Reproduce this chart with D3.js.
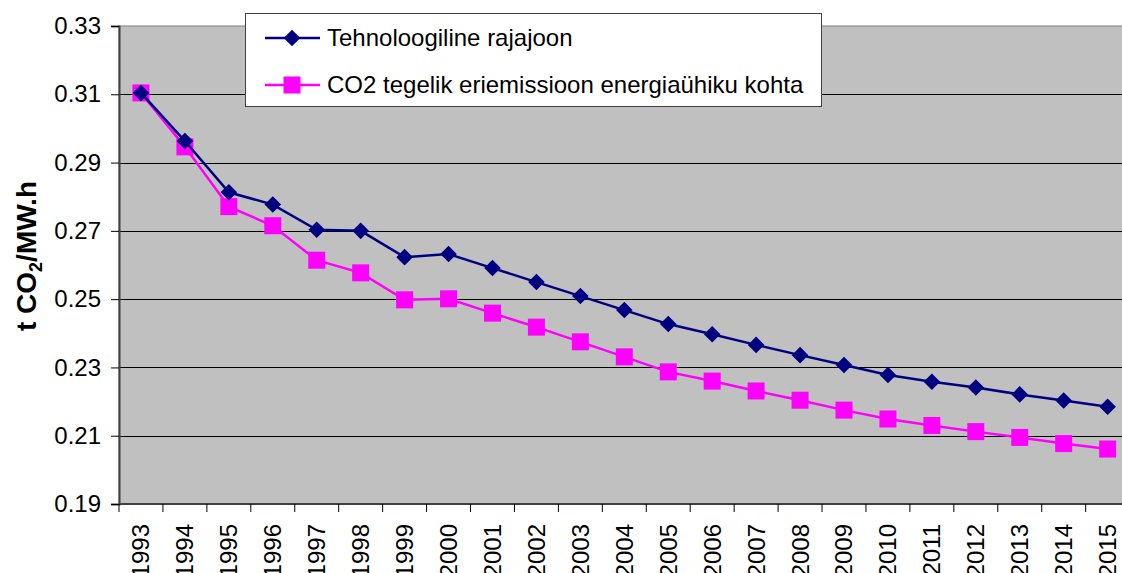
<!DOCTYPE html>
<html>
<head>
<meta charset="utf-8">
<script src="https://cdn.jsdelivr.net/npm/d3@7"></script>
<style>
  body { margin: 0; background: #fff; }
  text { font-family: "Liberation Sans", Arial, sans-serif; }
</style>
</head>
<body>
<svg id="chart" width="1122" height="573"></svg>
<script>
// categories and series
var years = ["1993","1994","1995","1996","1997","1998","1999","2000","2001","2002","2003",
             "2004","2005","2006","2007","2008","2009","2010","2011","2012","2013","2014","2015"];
var tehno = [0.3104,0.2963,0.2813,0.2777,0.2703,0.2700,0.2623,0.2632,0.2591,0.2550,0.2509,
             0.2468,0.2427,0.2397,0.2366,0.2336,0.2307,0.2278,0.2258,0.2241,0.2221,0.2203,0.2185];
var tegelik = [0.3104,0.2946,0.2771,0.2715,0.2614,0.2577,0.2498,0.2501,0.2459,0.2418,0.2375,
               0.2331,0.2287,0.2260,0.2231,0.2204,0.2175,0.2149,0.2130,0.2112,0.2095,0.2077,0.2061];
var yTicks = [0.19,0.21,0.23,0.25,0.27,0.29,0.31,0.33];
var seriesNames = ["Tehnoloogiline rajajoon", "CO2 tegelik eriemissioon energiaühiku kohta"];

var margin = {top: 26, left: 119},
    width = 1010.6,
    height = 478;

var svg = d3.select("#chart");
var g = svg.append("g").attr("transform", "translate(" + margin.left + "," + margin.top + ")");

var x = d3.scaleBand().domain(years).range([0, width]);
var y = d3.scaleLinear().domain([0.19, 0.33]).range([height, 0]);

// plot background
g.append("rect")
  .attr("width", width).attr("height", height)
  .attr("fill", "#c0c0c0").attr("stroke", "#808080").attr("stroke-width", 1);

// gridlines
g.selectAll(".grid")
  .data(yTicks.slice(1, -1))
  .enter().append("line")
  .attr("x1", 0).attr("x2", width)
  .attr("y1", function(d) { return Math.round(y(d)) + 0.5; })
  .attr("y2", function(d) { return Math.round(y(d)) + 0.5; })
  .attr("stroke", "#000").attr("stroke-width", 1);

// y axis
var yAxis = g.append("g")
  .call(d3.axisLeft(y).tickValues(yTicks).tickFormat(d3.format(".2f")).tickSize(8).tickPadding(10));
yAxis.select(".domain").attr("stroke", "#404040").attr("stroke-width", 2);
yAxis.selectAll("text").attr("font-size", 24).attr("fill", "#000");

// x axis with ticks at category boundaries
var xAxisG = g.append("g").attr("transform", "translate(0," + height + ")");
xAxisG.append("line").attr("x1", 0).attr("x2", width).attr("stroke", "#404040").attr("stroke-width", 2);
xAxisG.selectAll(".xt")
  .data(years)
  .enter().append("line")
  .attr("x1", function(d) { return x(d); })
  .attr("x2", function(d) { return x(d); })
  .attr("y1", 0).attr("y2", 8)
  .attr("stroke", "#000");
xAxisG.selectAll(".xl")
  .data(years)
  .enter().append("text")
  .attr("transform", function(d) { return "translate(" + (x(d) + x.bandwidth() / 2 + 8.5) + ",20) rotate(-90)"; })
  .attr("text-anchor", "end")
  .attr("font-size", 24)
  .text(function(d) { return d; });

// y axis title
var yt = svg.append("text")
  .attr("transform", "translate(36,256) rotate(-90)")
  .attr("text-anchor", "middle")
  .attr("font-size", 28).attr("font-weight", "bold");
yt.append("tspan").text("t CO");
yt.append("tspan").attr("font-size", 18).attr("dy", 6).text("2");
yt.append("tspan").attr("dy", -6).text("/MW.h");

var line = d3.line()
  .x(function(d, i) { return x(years[i]) + x.bandwidth() / 2; })
  .y(function(d) { return y(d); });

var diamond = d3.symbol().type(d3.symbolDiamond2).size(175);

// pink series
g.append("path").datum(tegelik)
  .attr("d", line).attr("fill", "none").attr("stroke", "#ff00ff").attr("stroke-width", 2.5);
g.selectAll(".sq")
  .data(tegelik)
  .enter().append("rect")
  .attr("x", function(d, i) { return x(years[i]) + x.bandwidth() / 2 - 8.5; })
  .attr("y", function(d) { return y(d) - 8.5; })
  .attr("width", 17).attr("height", 17)
  .attr("fill", "#ff00ff");

// navy series
g.append("path").datum(tehno)
  .attr("d", line).attr("fill", "none").attr("stroke", "#000080").attr("stroke-width", 2.5);
g.selectAll(".dm")
  .data(tehno)
  .enter().append("path")
  .attr("d", diamond)
  .attr("transform", function(d, i) { return "translate(" + (x(years[i]) + x.bandwidth() / 2) + "," + y(d) + ")"; })
  .attr("fill", "#000080");

// legend
var legend = svg.append("g");
legend.append("rect")
  .attr("x", 245.5).attr("y", 13.5).attr("width", 576).attr("height", 93)
  .attr("fill", "#fff").attr("stroke", "#404040").attr("stroke-width", 1);
var colors = ["#000080", "#ff00ff"];
seriesNames.forEach(function(name, i) {
  var ly = 38 + i * 47;
  legend.append("line")
    .attr("x1", 265).attr("x2", 320).attr("y1", ly).attr("y2", ly)
    .attr("stroke", colors[i]).attr("stroke-width", 2.5);
  if (i === 0) {
    legend.append("path").attr("d", diamond)
      .attr("transform", "translate(292," + ly + ")").attr("fill", colors[i]);
  } else {
    legend.append("rect").attr("x", 283.5).attr("y", ly - 8.5).attr("width", 17).attr("height", 17)
      .attr("fill", colors[i]);
  }
  legend.append("text")
    .attr("x", 327).attr("y", ly + 8)
    .attr("font-size", 24)
    .text(name);
});
</script>
</body>
</html>
